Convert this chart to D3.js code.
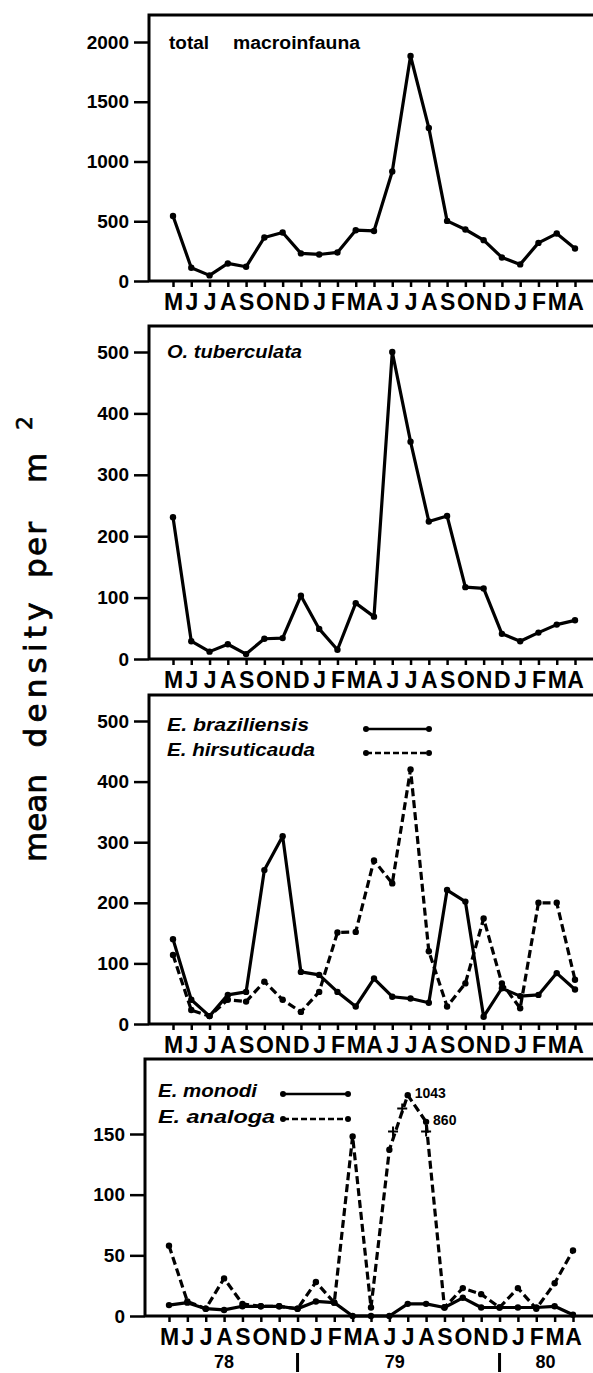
<!DOCTYPE html>
<html><head><meta charset="utf-8">
<script src="https://cdn.jsdelivr.net/npm/d3@7"></script>
<style>html,body{margin:0;padding:0;background:#fff}svg{display:block}</style>
</head><body>
<svg id="c" width="593" height="1373"></svg>
<script>
// ---------------- data ----------------
const months = ["M","J","J","A","S","O","N","D","J","F","M","A","J","J","A","S","O","N","D","J","F","M","A"];
const totalMacroinfauna = [544,111,47,147,119,364,406,231,222,239,425,419,917,1883,1281,503,431,342,197,139,319,397,272];
const oTuberculata = [231,29,12,24,8,33,34,103,49,15,91,69,500,354,224,233,117,115,41,29,43,56,63];
const eBraziliensis = [140,40,13,48,53,254,310,86,81,53,29,75,45,42,35,221,202,12,59,46,48,84,57];
const eHirsuticauda = [114,23,13,40,37,70,40,20,53,151,152,270,232,420,120,29,67,174,67,26,200,200,73];
const eMonodi = [9,11,6,5,8,8,8,6,12,11,0,0,0,10,10,7,15,7,7,7,7,8,1];
const eAnaloga = [58,12,6,31,10,8,8,6,28,11,148,7,137,182,160,7,23,18,7,23,6,27,54];
const ticks1 = [0,500,1000,1500,2000];
const ticks2 = [0,100,200,300,400,500];
const ticks3 = [0,100,200,300,400,500];
const ticks4 = [0,50,100,150];
const yearLabels = ["78","79","80"];
const yearAt = [3,12.3,20.5];
const yearBreaks = [7,18];
const peakLabels = ["1043","860"];
const peakIdx = [13,14];
const crossMarks = [[12.2,152],[12.7,171],[14,152]];

// ---------------- layout ----------------
const W = 593;
const FONT = "'Liberation Sans', Arial, Helvetica, sans-serif";
const svg = d3.select("#c");
svg.append("rect").attr("width",W).attr("height",1373).attr("fill","#fff");

const panels = [
  {top:15, axis:281, left:149, x0:173, x1:575, ymax:2000, ytop:42, ticks:ticks1,
   series:[{v:totalMacroinfauna, dash:null}],
   labels:[{t:"total", x:169, y:49, it:false, len:40},{t:"macroinfauna", x:233, y:49, it:false, len:127}]},
  {top:326, axis:659, left:149, x0:173, x1:575, ymax:500, ytop:352, ticks:ticks2,
   series:[{v:oTuberculata, dash:null}],
   labels:[{t:"O. tuberculata", x:167, y:358, it:true, len:135}]},
  {top:695, axis:1024, left:149, x0:173, x1:575, ymax:500, ytop:721, ticks:ticks3,
   series:[{v:eBraziliensis, dash:null},{v:eHirsuticauda, dash:"8,4"}],
   labels:[{t:"E. braziliensis", x:167, y:731, it:true, len:142},{t:"E. hirsuticauda", x:167, y:756, it:true, len:148}],
   legend:{x0:366, x1:429, ys:[729,753]}},
  {top:1059, axis:1316, left:145, x0:169, x1:573, ymax:150, ytop:1134, ticks:ticks4,
   series:[{v:eMonodi, dash:null},{v:eAnaloga, dash:"8,4"}],
   labels:[{t:"E. monodi", x:158, y:1097, it:true, len:99},{t:"E. analoga", x:158, y:1123, it:true, len:117}],
   legend:{x0:283, x1:348, ys:[1094,1119]}, last:true}
];

panels.forEach((p) => {
  const g = svg.append("g");
  const x = d3.scaleLinear().domain([0, months.length-1]).range([p.x0, p.x1]);
  const y = d3.scaleLinear().domain([0, p.ymax]).range([p.axis, p.ytop]);

  g.append("path")
    .attr("d", `M${p.left},${p.axis} L${p.left},${p.top} L${W},${p.top}`)
    .attr("fill","none").attr("stroke","#000").attr("stroke-width",3);
  g.append("line").attr("x1",p.left).attr("x2",W).attr("y1",p.axis).attr("y2",p.axis)
    .attr("stroke","#000").attr("stroke-width",3);

  const ya = g.append("g").attr("transform",`translate(${p.left},0)`)
    .call(d3.axisLeft(y).tickValues(p.ticks).tickSize(15).tickPadding(5).tickFormat(d3.format("d")));
  ya.select(".domain").remove();
  ya.selectAll("line").attr("stroke","#000").attr("stroke-width",2.5);
  ya.selectAll("text").attr("font-family",FONT).attr("font-weight","bold")
    .attr("font-size",19).attr("fill","#000");

  const xa = g.append("g").attr("transform",`translate(0,${p.axis})`)
    .call(d3.axisBottom(x).tickValues(d3.range(months.length)).tickSize(6).tickFormat(i => months[i]));
  xa.select(".domain").remove();
  xa.selectAll("line").attr("stroke","#000").attr("stroke-width",2.5);
  xa.selectAll("text").attr("y",29).attr("dy",0).attr("font-family",FONT)
    .attr("font-weight","bold").attr("font-size",23).attr("fill","#000");

  p.series.forEach(s => {
    const line = d3.line().x((d,i)=>x(i)).y(d=>y(d));
    g.append("path").datum(s.v).attr("d",line).attr("fill","none")
      .attr("stroke","#000").attr("stroke-width",3.2).attr("stroke-linejoin","round")
      .attr("stroke-dasharray", s.dash);
    g.selectAll(null).data(s.v).enter().append("circle")
      .attr("cx",(d,i)=>x(i)).attr("cy",d=>y(d)).attr("r",3.2).attr("fill","#000");
  });

  p.labels.forEach(l => {
    g.append("text").attr("x",l.x).attr("y",l.y).text(l.t)
      .attr("textLength",l.len).attr("lengthAdjust","spacingAndGlyphs")
      .attr("font-family",FONT).attr("font-weight","bold").attr("font-size",18)
      .attr("font-style", l.it ? "italic" : "normal").attr("fill","#000");
  });

  if (p.legend) {
    p.legend.ys.forEach((ly, k) => {
      g.append("line").attr("x1",p.legend.x0).attr("x2",p.legend.x1).attr("y1",ly).attr("y2",ly)
        .attr("stroke","#000").attr("stroke-width",2.5).attr("stroke-dasharray", p.series[k].dash ? "6,3" : null);
      [p.legend.x0, p.legend.x1].forEach(lx => g.append("circle").attr("cx",lx).attr("cy",ly).attr("r",3).attr("fill","#000"));
    });
  }

  if (p.last) {
    peakIdx.forEach((pi2, k) => {
      g.append("text").attr("x", x(pi2)+7).attr("y", y(eAnaloga[pi2])+3).text(peakLabels[k])
        .attr("font-family",FONT).attr("font-weight","bold").attr("font-size",14).attr("fill","#000");
    });
    crossMarks.forEach(c => {
      const cx = x(c[0]), cy = y(c[1]);
      g.append("path").attr("d",`M${cx-5},${cy} L${cx+5},${cy} M${cx},${cy-5} L${cx},${cy+5}`)
        .attr("stroke","#000").attr("stroke-width",2);
    });
    yearLabels.forEach((t,k) => {
      g.append("text").attr("x", x(yearAt[k])).attr("y", p.axis+52).attr("text-anchor","middle").text(t)
        .attr("font-family",FONT).attr("font-weight","bold").attr("font-size",18).attr("fill","#000");
    });
    yearBreaks.forEach(b => {
      g.append("line").attr("x1",x(b)).attr("x2",x(b)).attr("y1",p.axis+37).attr("y2",p.axis+56)
        .attr("stroke","#000").attr("stroke-width",3);
    });
  }
});

// y-axis title
const TF = "'DejaVu Sans', 'Liberation Sans', sans-serif";
const titleWords = [
  {t:"mean", cy:818, len:88},
  {t:"density", cy:675, len:145},
  {t:"per", cy:550, len:56},
  {t:"m", cy:468, len:null}
];
titleWords.forEach(w => {
  const t = svg.append("text").attr("transform",`translate(46,${w.cy}) rotate(-90)`)
    .attr("text-anchor","middle").attr("font-family",TF).attr("font-size",31)
    .attr("stroke","#000").attr("stroke-width",0.8)
    .attr("fill","#000").text(w.t);
  if (w.len) t.attr("textLength",w.len).attr("lengthAdjust","spacing");
});
svg.append("text").attr("transform",`translate(32,423) rotate(-90)`)
  .attr("text-anchor","middle").attr("font-family",TF).attr("stroke","#000").attr("stroke-width",0.6)
  .attr("font-size",22).attr("fill","#000").text("2");
</script>
</body></html>
